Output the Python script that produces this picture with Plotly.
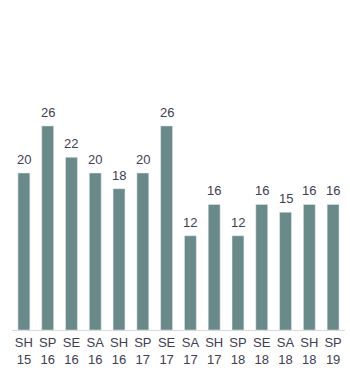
import plotly.graph_objects as go

seasons = ["SH", "SP", "SE", "SA", "SH", "SP", "SE", "SA", "SH", "SP", "SE", "SA", "SH", "SP"]
years = ["15", "16", "16", "16", "16", "17", "17", "17", "17", "18", "18", "18", "18", "19"]
values = [20, 26, 22, 20, 18, 20, 26, 12, 16, 12, 16, 15, 16, 16]

cats = [f"{s}<br>{y}" for s, y in zip(seasons, years)]
xs = list(range(len(values)))

fig = go.Figure(go.Bar(
    x=xs,
    y=values,
    marker=dict(color="#6a8a8a"),
    hoverinfo="x+y",
))
for x, v in zip(xs, values):
    fig.add_annotation(
        x=x, y=v, text=str(v), showarrow=False,
        yanchor="bottom", xanchor="center", yshift=4,
        font=dict(family="Liberation Sans, Arial", size=13, color="#404050"),
    )
fig.update_layout(
    width=350, height=383,
    margin=dict(l=12, r=5, t=16, b=53),
    paper_bgcolor="white", plot_bgcolor="white",
    bargap=0.5,
    showlegend=False,
    font=dict(family="Liberation Sans, Arial", size=13, color="#404050"),
)
fig.update_xaxes(
    tickvals=xs, ticktext=cats,
    range=[-0.5, len(values) - 0.5],
    showline=True, linecolor="#d9d9d9", linewidth=1,
    showgrid=False, ticks="", zeroline=False,
)
fig.update_yaxes(range=[0, 40], visible=False, showgrid=False, zeroline=False)
fig.write_html("out.html")
